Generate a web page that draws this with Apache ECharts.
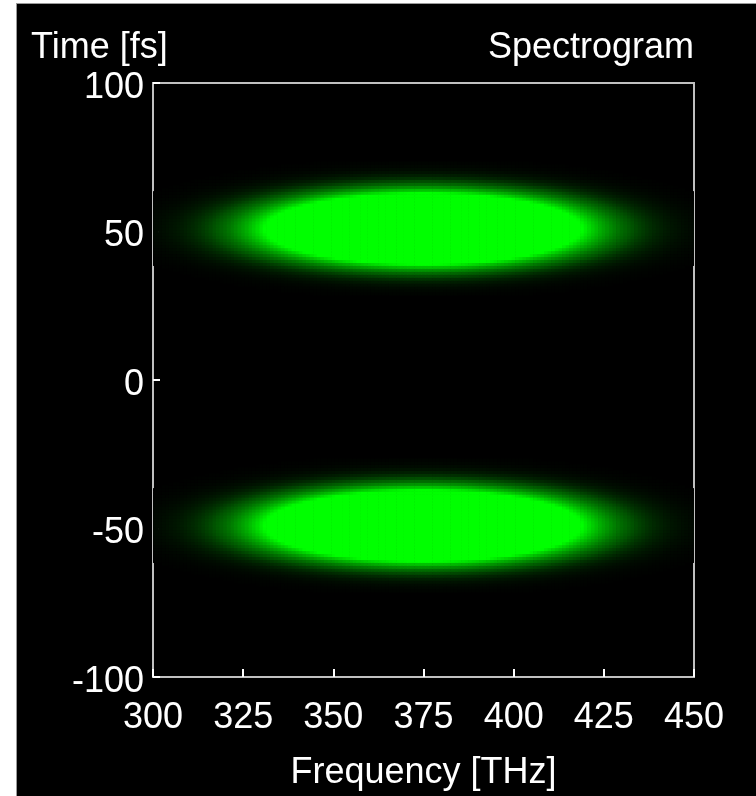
<!DOCTYPE html>
<html>
<head>
<meta charset="utf-8">
<script src="https://cdn.jsdelivr.net/npm/echarts@6/dist/echarts.min.js"></script>
<style>
  html, body { margin: 0; padding: 0; background: #ffffff; }
  #main {
    position: absolute; left: 16px; top: 3px;
    width: 739px; height: 792px;
    border-left: 1px solid #9a9a9a; border-top: 1px solid #9a9a9a;
    background: #000000;
  }
</style>
</head>
<body>
<div id="main"></div>
<script>
// frequency samples of the spectrogram [THz]
var freqs = [
  300, 301, 302, 303, 304, 305, 306, 307, 308, 309,
  310, 311, 312, 313, 314, 315, 316, 317, 318, 319,
  320, 321, 322, 323, 324, 325, 326, 327, 328, 329,
  330, 331, 332, 333, 334, 335, 336, 337, 338, 339,
  340, 341, 342, 343, 344, 345, 346, 347, 348, 349,
  350, 351, 352, 353, 354, 355, 356, 357, 358, 359,
  360, 361, 362, 363, 364, 365, 366, 367, 368, 369,
  370, 371, 372, 373, 374, 375, 376, 377, 378, 379,
  380, 381, 382, 383, 384, 385, 386, 387, 388, 389,
  390, 391, 392, 393, 394, 395, 396, 397, 398, 399,
  400, 401, 402, 403, 404, 405, 406, 407, 408, 409,
  410, 411, 412, 413, 414, 415, 416, 417, 418, 419,
  420, 421, 422, 423, 424, 425, 426, 427, 428, 429,
  430, 431, 432, 433, 434, 435, 436, 437, 438, 439,
  440, 441, 442, 443, 444, 445, 446, 447, 448, 449,
  450
];
// relative spectral intensity at each frequency
var spectrum = [
  0.0041, 0.0047, 0.0054, 0.0063, 0.0072, 0.0083, 0.0095, 0.0108, 0.0123, 0.0141,
  0.0160, 0.0181, 0.0205, 0.0232, 0.0262, 0.0295, 0.0331, 0.0371, 0.0415, 0.0464,
  0.0517, 0.0576, 0.0639, 0.0709, 0.0784, 0.0865, 0.0953, 0.105, 0.115, 0.126,
  0.138, 0.150, 0.164, 0.178, 0.193, 0.209, 0.226, 0.243, 0.262, 0.281,
  0.301, 0.322, 0.344, 0.367, 0.390, 0.414, 0.439, 0.464, 0.490, 0.516,
  0.542, 0.569, 0.596, 0.623, 0.649, 0.676, 0.702, 0.728, 0.754, 0.778,
  0.802, 0.825, 0.848, 0.868, 0.888, 0.907, 0.924, 0.939, 0.953, 0.965,
  0.976, 0.984, 0.991, 0.996, 0.999, 1.000, 0.999, 0.996, 0.991, 0.984,
  0.976, 0.965, 0.953, 0.939, 0.924, 0.907, 0.888, 0.868, 0.848, 0.825,
  0.802, 0.778, 0.754, 0.728, 0.702, 0.676, 0.649, 0.623, 0.596, 0.569,
  0.542, 0.516, 0.490, 0.464, 0.439, 0.414, 0.390, 0.367, 0.344, 0.322,
  0.301, 0.281, 0.262, 0.243, 0.226, 0.209, 0.193, 0.178, 0.164, 0.150,
  0.138, 0.126, 0.115, 0.105, 0.0953, 0.0865, 0.0784, 0.0709, 0.0639, 0.0576,
  0.0517, 0.0464, 0.0415, 0.0371, 0.0331, 0.0295, 0.0262, 0.0232, 0.0205, 0.0181,
  0.0160, 0.0141, 0.0123, 0.0108, 0.0095, 0.0083, 0.0072, 0.0063, 0.0054, 0.0047,
  0.0041
];
// time offsets around each pulse [fs] and the pulse envelope there (estimated)
var timeOffsets = [
  -22, -21, -20, -19, -18, -17, -16, -15, -14, -13, -12, -11, -10, -9, -8, -7, -6, -5, -4, -3, -2, -1,
  0,
  1, 2, 3, 4, 5, 6, 7, 8, 9, 10, 11, 12, 13, 14, 15, 16, 17, 18, 19, 20, 21, 22
];
var pulseEnvelope = [
  0.0017, 0.0030, 0.0051, 0.0086, 0.0140, 0.0222, 0.0343, 0.0516, 0.0756, 0.108, 0.150,
  0.203, 0.268, 0.344, 0.430, 0.524, 0.622, 0.719, 0.810, 0.888, 0.949, 0.987,
  1.000,
  0.987, 0.949, 0.888, 0.810, 0.719, 0.622, 0.524, 0.430, 0.344, 0.268, 0.203,
  0.150, 0.108, 0.0756, 0.0516, 0.0343, 0.0222, 0.0140, 0.0086, 0.0051, 0.0030, 0.0017
];
// centres of the two pulses [fs]
var pulseCenters = [51, -49];
var freqTicks = [300, 325, 350, 375, 400, 425, 450];
var timeTicks = [-100, -50, 0, 50, 100];

var FREQ_STEP = 1;
var TIME_STEP = 1;
var FONT = 'Liberation Sans, Arial, sans-serif';

var cells = [];
pulseCenters.forEach(function (c) {
  timeOffsets.forEach(function (dt, j) {
    freqs.forEach(function (f, i) {
      var v = spectrum[i] * pulseEnvelope[j];
      if (v > 0.0006) cells.push([f, c + dt, v]);
    });
  });
});

function renderCell(params, api) {
  var f = api.value(0);
  var t = api.value(1);
  var p0 = api.coord([f - FREQ_STEP / 2, t + TIME_STEP / 2]);
  var p1 = api.coord([f + FREQ_STEP / 2, t - TIME_STEP / 2]);
  var shape = echarts.graphic.clipRectByRect(
    { x: p0[0] - 0.3, y: p0[1] - 0.3, width: p1[0] - p0[0] + 0.6, height: p1[1] - p0[1] + 0.6 },
    { x: params.coordSys.x, y: params.coordSys.y, width: params.coordSys.width, height: params.coordSys.height }
  );
  return shape && {
    type: 'rect',
    shape: shape,
    style: { fill: api.visual('color') }
  };
}

var chart = echarts.init(document.getElementById('main'));
chart.setOption({
  backgroundColor: '#000000',
  animation: false,
  title: [
    {
      text: 'Time [fs]', left: 14, top: 26, padding: 0,
      textStyle: { color: '#ffffff', fontSize: 36, fontWeight: 'normal', fontFamily: FONT }
    },
    {
      text: 'Spectrogram', right: 62, top: 26, padding: 0,
      textStyle: { color: '#ffffff', fontSize: 36, fontWeight: 'normal', fontFamily: FONT }
    }
  ],
  grid: {
    left: 136, top: 79, width: 541, height: 601,
    show: true, borderColor: '#c0c0c0', borderWidth: 2, backgroundColor: '#000000'
  },
  visualMap: {
    type: 'continuous', show: false, seriesIndex: 0, dimension: 2,
    min: 0, max: 0.15,
    inRange: { color: ['#000000', '#005400', '#009200', '#00ca00', '#00ff00'] }
  },
  xAxis: {
    type: 'value',
    min: freqTicks[0], max: freqTicks[freqTicks.length - 1], interval: 25,
    name: 'Frequency [THz]', nameLocation: 'middle', nameGap: 78,
    nameTextStyle: { color: '#ffffff', fontSize: 36, fontFamily: FONT },
    axisLine: { show: true, onZero: false, lineStyle: { color: '#c0c0c0', width: 2 } },
    axisTick: { show: true, inside: true, length: 8, lineStyle: { color: '#ffffff', width: 2 } },
    axisLabel: { color: '#ffffff', fontSize: 36, fontFamily: FONT, margin: 23 },
    splitLine: { show: false }
  },
  yAxis: {
    type: 'value',
    min: timeTicks[0], max: timeTicks[timeTicks.length - 1], interval: 50,
    axisLine: { show: true, onZero: false, lineStyle: { color: '#c0c0c0', width: 2 } },
    axisTick: { show: true, inside: true, length: 7, lineStyle: { color: '#ffffff', width: 2 } },
    axisLabel: {
      color: '#ffffff', fontSize: 36, fontFamily: FONT, margin: 9,
      verticalAlign: 'top', lineHeight: 10
    },
    splitLine: { show: false }
  },
  series: [{
    type: 'custom',
    renderItem: renderCell,
    encode: { x: 0, y: 1 },
    data: cells
  }]
});
</script>
</body>
</html>
